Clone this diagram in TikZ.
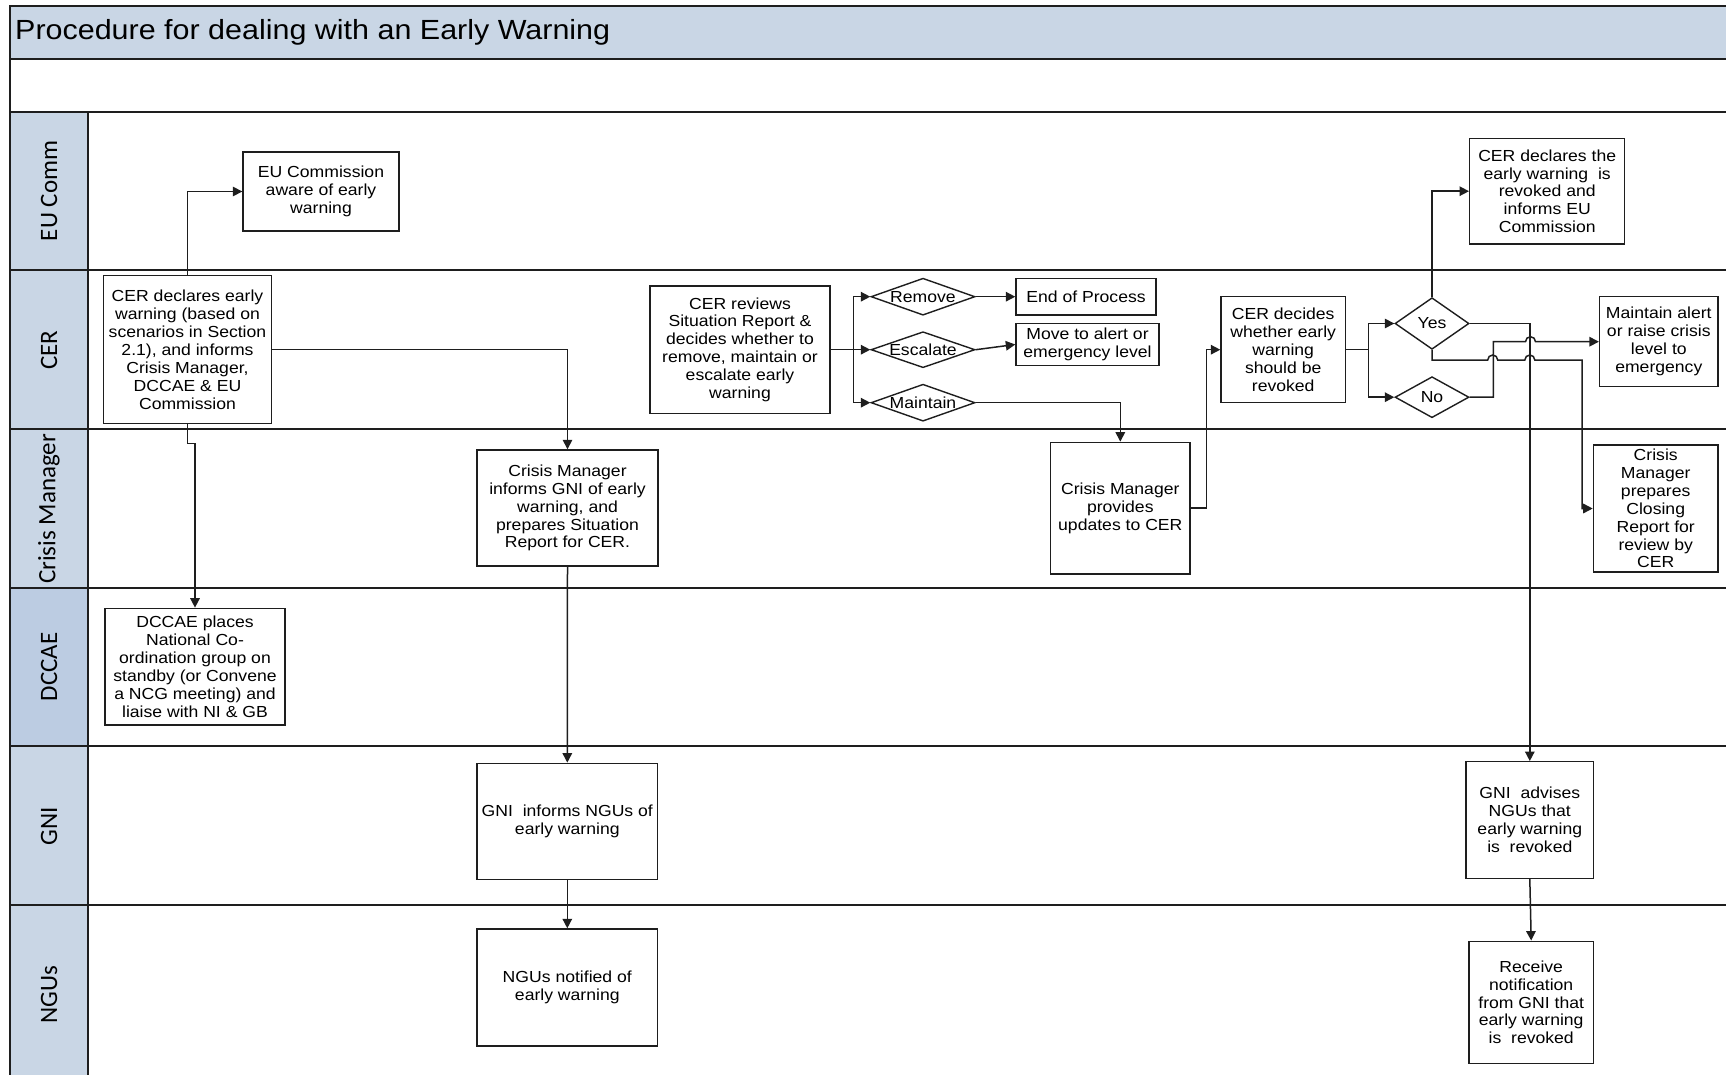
\documentclass[tikz,border=0pt]{standalone}
\usepackage{fontspec}
\setmainfont{Liberation Sans}[FakeStretch=1.1]
\newfontfamily\lanefont{Carlito}
\usepackage{tikz}
\usetikzlibrary{shapes.geometric, arrows.meta}

\definecolor{lanefill}{RGB}{201,214,229}
\definecolor{lanefilldark}{RGB}{188,204,226}
\definecolor{linegray}{RGB}{30,30,30}

\begin{document}
\begin{tikzpicture}[
    x=1pt, y=-1pt,
    task/.style={
        rectangle,
        draw=linegray,
        fill=white,
        line width=1.4pt,
        align=center,
        inner sep=1pt,
        font=\fontsize{16}{17.9}\selectfont
    },
    choice/.style={
        diamond,
        draw=linegray,
        fill=white,
        line width=1.4pt,
        aspect=2.8,
        inner sep=0pt,
        font=\fontsize{16}{17.9}\selectfont
    },
    wh/.style 2 args={
        minimum width=#1,
        minimum height=#2
    },
    lanelabel/.style={
        rotate=90,
        font=\lanefont\fontsize{25}{28}\selectfont
    },
    frame/.style={
        draw=linegray,
        line width=2pt
    },
    arrow/.style={
        draw=linegray,
        line width=1.5pt,
        -{Triangle[length=9.5pt, width=9.5pt]}
    }
]
    \useasboundingbox (0,0) rectangle (1726,1075);

    % Title band and lane header column
    \fill[lanefill] (10,6) rectangle (1726,59);
    \fill[lanefill] (10,112) rectangle (88,1075);
    \fill[lanefilldark] (10,588) rectangle (88,746);
    \node [anchor=base west, inner sep=0pt, font=\fontsize{27.7}{30}\selectfont] (title) at (15,40) {Procedure for dealing with an Early Warning};

    % Lane lines
    \draw [frame] (1726,6) -- (10,6) -- (10,1075);
    \draw [frame] (10,59) -- (1726,59) (10,112) -- (1726,112)
        (10,270.5) -- (1726,270.5) (10,429) -- (1726,429)
        (10,588) -- (1726,588) (10,746) -- (1726,746)
        (10,904.5) -- (1726,904.5);
    \draw [frame] (88,112) -- (88,1075);

    % Lane names
    \node [lanelabel] (laneEU) at (49,191) {EU Comm};
    \node [lanelabel] (laneCER) at (49,350) {CER};
    \node [lanelabel] (laneCM) at (49,509) {Crisis Manager};
    \node [lanelabel] (laneDCCAE) at (49,667) {DCCAE};
    \node [lanelabel] (laneGNI) at (49,826) {GNI};
    \node [lanelabel] (laneNGU) at (49,995) {NGUs};

    % Early warning declared
    \node [task, wh={156}{79}] (euaware) at (321,191.5) {EU Commission\\ aware of early\\ warning};
    \node [task, wh={167.6}{148}] (cerdecl) at (187.5,349.7) {CER declares early\\ warning (based on\\ scenarios in Section\\ 2.1), and informs\\ Crisis Manager,\\ DCCAE \& EU\\ Commission};
    \node [task, wh={181}{116}] (cminform) at (567.5,508) {Crisis Manager\\ informs GNI of early\\ warning, and\\ prepares Situation\\ Report for CER.};
    \node [task, wh={180}{116.7}] (dccae) at (195,666.7) {DCCAE places\\ National Co-\\ ordination group on\\ standby (or Convene\\ a NCG meeting) and\\ liaise with NI \& GB};
    \node [task, wh={180.6}{116}] (gniinform) at (567.3,821.3) {GNI\ \ informs NGUs of\\ early warning};
    \node [task, wh={180.6}{117}] (ngunotif) at (567.3,987.5) {NGUs notified of\\ early warning};

    % Review of the situation report
    \node [task, wh={180}{127.3}] (cerreview) at (740,349.7) {CER reviews\\ Situation Report \&\\ decides whether to\\ remove, maintain or\\ escalate early\\ warning};
    \node [choice, wh={104}{37}] (remove) at (923,296.7) {Remove};
    \node [choice, wh={104}{36}] (escalate) at (923,349.7) {Escalate};
    \node [choice, wh={104}{37}] (maintain) at (923,402.7) {Maintain};
    \node [task, wh={140}{36.7}] (endproc) at (1086,296.7) {End of Process};
    \node [task, wh={143}{42.4}] (movealert) at (1087.5,344.5) {Move to alert or\\ emergency level};
    \node [task, wh={139.5}{131.7}] (cmupdates) at (1120.3,508.2) {Crisis Manager\\ provides\\ updates to CER};

    % Revocation
    \node [task, wh={124.4}{106}] (cerdecides) at (1283.2,349.7) {CER decides\\ whether early\\ warning\\ should be\\ revoked};
    \node [choice, wh={74}{51.6}] (yes) at (1432,323.5) {Yes};
    \node [choice, wh={74}{41}] (no) at (1432,397.2) {No};
    \node [task, wh={155}{105.7}] (cerrevoked) at (1547.2,191.2) {CER declares the\\ early warning\ \ is\\ revoked and\\ informs EU\\ Commission};
    \node [task, wh={118.4}{90}] (maintainalert) at (1658.8,341.7) {Maintain alert\\ or raise crisis\\ level to\\ emergency};
    \node [task, wh={124.6}{127}] (cmclosing) at (1655.7,508.5) {Crisis\\ Manager\\ prepares\\ Closing\\ Report for\\ review by\\ CER};
    \node [task, wh={127.5}{116.5}] (gniadvises) at (1529.8,820) {GNI\ \ advises\\ NGUs that\\ early warning\\ is\ \ revoked};
    \node [task, wh={124.5}{122}] (receive) at (1531.2,1002.3) {Receive\\ notification\\ from GNI that\\ early warning\\ is\ \ revoked};

    % Connections
    \draw [arrow] (cerdecl.north) |- (euaware.west);
    \draw [arrow] (cerdecl.east) -| (cminform.north);
    \draw [arrow] (cerdecl.south) -- ++(0,19) -| (dccae.north);
    \draw [arrow] (cminform.south) -- (gniinform.north);
    \draw [arrow] (gniinform.south) -- (ngunotif.north);

    \draw [arrow] (cerreview.east) -- ++(23,0) coordinate (fork1) |- (remove.west);
    \draw [arrow] (fork1) -- (escalate.west);
    \draw [arrow] (fork1) |- (maintain.west);
    \draw [arrow] (remove.east) -- (endproc.west);
    \draw [arrow] (escalate.east) -- (movealert.west);
    \draw [arrow] (maintain.east) -| (cmupdates.north);
    \draw [arrow] (cmupdates.east) -- ++(15.5,0) |- (cerdecides.west);

    \draw [arrow] (cerdecides.east) -- ++(22.6,0) coordinate (fork2) |- (yes.west);
    \draw [arrow] (fork2) |- (no.west);
    \draw [arrow] (yes.north) |- (cerrevoked.west);
    \draw [arrow] (yes.east) -| (gniadvises.north);
    \draw [arrow] (gniadvises.south) -- (receive.north);

    % Crossing lines with jumps
    \draw [arrow] (no.east) -- ++(23.7,0) -- ++(0,-55.5) -- ++(32.1,0)
        arc [start angle=180, end angle=0, radius=5pt] -- (maintainalert.west);
    \draw [arrow] (yes.south) -- ++(0,10) -- ++(55.7,0)
        arc [start angle=180, end angle=0, radius=5pt] -- ++(27.1,0)
        arc [start angle=180, end angle=0, radius=5pt] -- ++(47.2,0) |- (cmclosing.west);

\end{tikzpicture}
\end{document}
